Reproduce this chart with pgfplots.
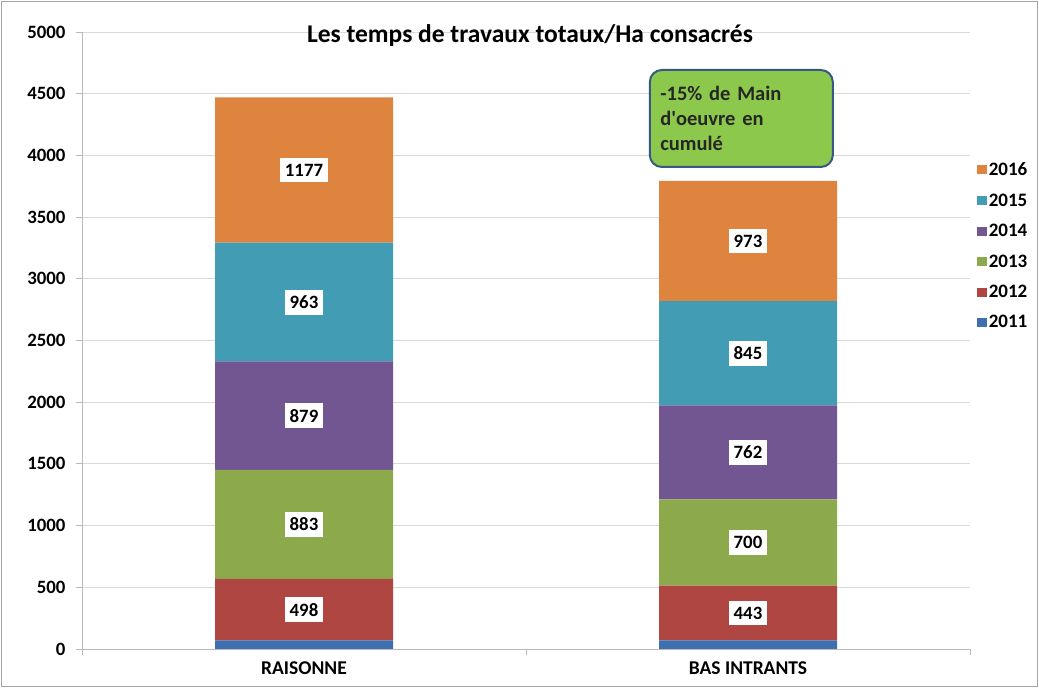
\documentclass[border=0pt]{standalone}
\usepackage{pgfplots}
\usepackage{pgfplotstable}
\pgfplotsset{compat=1.18}
\usepackage{fontspec}
\setmainfont{Carlito}
\definecolor{c2011}{RGB}{62,112,176}
\definecolor{c2012}{RGB}{176,70,66}
\definecolor{c2013}{RGB}{140,170,75}
\definecolor{c2014}{RGB}{114,86,146}
\definecolor{c2015}{RGB}{66,156,180}
\definecolor{c2016}{RGB}{222,132,62}
\definecolor{boxgreen}{RGB}{140,200,76}
\definecolor{boxborder}{RGB}{55,88,135}
\pgfplotstableread{
x y2011 y2012 y2013 y2014 y2015 y2016
0 70 498 883 879 963 1177
1 70 443 700 762 845 973
}\datatable
\pgfplotstableread{
x ymid label
0 319 498
0 1009.5 883
0 1890.5 879
0 2811.5 963
0 3881.5 1177
1 291.5 443
1 863 700
1 1594 762
1 2397.5 845
1 3306.5 973
}\labeltable
\begin{document}
\begin{tikzpicture}[x=1pt,y=1pt]
\useasboundingbox (0,0) rectangle (1039,688);
\fill[white] (0,0) rectangle (1039,688);
\draw[gray!70, line width=1pt] (1.5,1.5) rectangle (1037.5,686.5);
\pgfplotsset{
  commonaxis/.style={
    at={(82pt,39pt)}, anchor=south west,
    scale only axis, width=888pt, height=617pt,
    xmin=-0.5, xmax=1.5, ymin=0, ymax=5000,
  }
}
\begin{axis}[commonaxis,
  ybar stacked, bar width=178pt,
  axis x line*=bottom, axis y line*=left,
  axis line style={draw=gray!55, line width=0.9pt, -},
  ytick={0,500,...,5000},
  ymajorgrids, grid style={gray!30, line width=0.9pt},
  tick style={draw=gray!55, line width=0.9pt},
  tick align=outside, major tick length=6pt,
  xtick={-0.5,0.5,1.5}, xticklabels={},
  extra x ticks={0,1}, extra x tick labels={RAISONNE,BAS INTRANTS},
  extra x tick style={major tick length=0pt,
    xticklabel style={yshift=-9pt}},
  yticklabel style={font=\fontsize{18.8}{21}\selectfont\bfseries, xshift=-7pt},
  xticklabel style={font=\fontsize{19.5}{22}\selectfont\bfseries},
  /pgf/number format/assume math mode=true,
  /pgf/number format/1000 sep={},
  title={Les temps de travaux totaux/Ha consacrés},
  title style={at={(0.5,1)}, anchor=center, yshift=-10pt, xshift=4pt,
    font=\fontsize{25.5}{29}\selectfont\bfseries},
  reverse legend,
  legend cell align=left,
  legend image code/.code={\fill[#1] (0pt,-4.5pt) rectangle (10pt,4.5pt);},
  legend style={at={(1.004,0.653)}, anchor=west, draw=none, fill=none,
    font=\fontsize{19}{21}\selectfont\bfseries, row sep=12.5pt,
    /tikz/every even column/.append style={column sep=2pt}},
]
\addplot[fill=c2011, draw=none] table[x=x,y=y2011]{\datatable};
\addlegendentry{2011}
\addplot[fill=c2012, draw=none] table[x=x,y=y2012]{\datatable};
\addlegendentry{2012}
\addplot[fill=c2013, draw=none] table[x=x,y=y2013]{\datatable};
\addlegendentry{2013}
\addplot[fill=c2014, draw=none] table[x=x,y=y2014]{\datatable};
\addlegendentry{2014}
\addplot[fill=c2015, draw=none] table[x=x,y=y2015]{\datatable};
\addlegendentry{2015}
\addplot[fill=c2016, draw=none] table[x=x,y=y2016]{\datatable};
\addlegendentry{2016}
\end{axis}
\begin{axis}[commonaxis, hide axis]
\addplot[only marks, mark=none, nodes near coords,
  point meta=explicit symbolic,
  every node near coord/.append style={fill=white, anchor=center,
    font=\fontsize{18.8}{21}\selectfont\bfseries, text=black,
    inner xsep=5pt, inner ysep=6pt}]
  table[x=x,y=ymid,meta=label]{\labeltable};
\node[draw=boxborder, line width=2pt, fill=boxgreen, rounded corners=12pt,
  minimum width=183pt, minimum height=97pt, text width=162pt, align=left,
  inner xsep=10.5pt,
  font=\fontsize{20.5}{25}\selectfont\bfseries, text=black!85]
  at (axis cs:0.985,4299) {-15\% de Main\\d\textquotesingle oeuvre en\\cumulé};
\end{axis}
\end{tikzpicture}
\end{document}
